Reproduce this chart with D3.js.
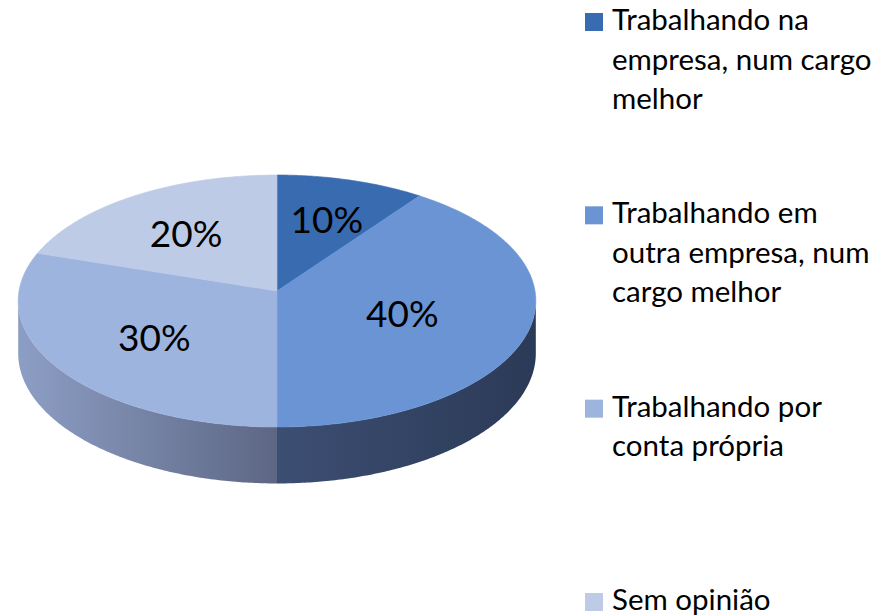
<!DOCTYPE html>
<html>
<head>
<meta charset="utf-8">
<script src="https://cdn.jsdelivr.net/npm/d3@7"></script>
<style>
  html, body { margin: 0; padding: 0; background: #ffffff; }
  svg { display: block; }
</style>
</head>
<body>
<svg id="chart" width="895" height="616"></svg>
<script>
// Slices, in drawing order (clockwise from 12 o'clock)
const categories = [
  "Trabalhando na empresa, num cargo melhor",
  "Trabalhando em outra empresa, num cargo melhor",
  "Trabalhando por conta própria",
  "Sem opinião"
];
const values = [10, 40, 30, 20];
const valueLabels = ["10%", "40%", "30%", "20%"];
const legendLines = [
  ["Trabalhando na", "empresa, num cargo", "melhor"],
  ["Trabalhando em", "outra empresa, num", "cargo melhor"],
  ["Trabalhando por", "conta própria"],
  ["Sem opinião"]
];

const topColors = ["#396bb1", "#6a94d4", "#9db4de", "#bdcbe7"];
// side wall gradients (light edge -> front edge) for the slices that face the viewer
const sideColors = [
  ["#2e3f5e", "#33456a"],
  ["#2b3a56", "#3c4e73"],
  ["#8d9ec5", "#5d6784"],
  ["#aab8d6", "#8d9ec5"]
];

const svg = d3.select("#chart");

// 3D pie geometry with a light perspective
const cx = 277, cy = 291;
const A = 258, B = 125.2, K = 0.0794, depth = 52;

function proj(theta, r, z) {
  const s = Math.sin(theta), c = Math.cos(theta);
  const w = 1 + K * r * c;
  return [cx + A * r * s / w, cy - B * r * c / w + z / w];
}

const pie = d3.pie().sort(null).value(d => d);
const arcs = pie(values);

const line = d3.line();
function sampleArc(a0, a1, z) {
  const n = Math.max(2, Math.ceil(Math.abs(a1 - a0) / 0.01));
  return d3.range(n + 1).map(i => proj(a0 + (a1 - a0) * i / n, 1, z));
}

// silhouette angles where the side wall becomes visible
const silA = Math.acos(-K);            // right side
const silB = 2 * Math.PI - silA;       // left side

const defs = svg.append("defs");

// side walls
arcs.forEach((d, i) => {
  const a0 = Math.max(d.startAngle, silA);
  const a1 = Math.min(d.endAngle, silB);
  if (a1 <= a0) return;
  const top = sampleArc(a0, a1, 0);
  const bottom = sampleArc(a1, a0, depth);
  const pts = top.concat(bottom);
  const xs = pts.map(p => p[0]);
  const xMin = d3.min(xs), xMax = d3.max(xs);
  const frontOnRight = (a0 + a1) / 2 > Math.PI;
  const g = defs.append("linearGradient")
    .attr("id", "side" + i)
    .attr("gradientUnits", "userSpaceOnUse")
    .attr("x1", xMin).attr("x2", xMax).attr("y1", 0).attr("y2", 0);
  const cols = frontOnRight ? sideColors[i] : [sideColors[i][1], sideColors[i][0]];
  g.append("stop").attr("offset", "0%").attr("stop-color", cols[0]);
  g.append("stop").attr("offset", "100%").attr("stop-color", cols[1]);
  svg.append("path")
    .attr("d", line(pts) + "Z")
    .attr("fill", "url(#side" + i + ")");
});

// top faces
arcs.forEach((d, i) => {
  const pts = [proj(0, 0, 0)].concat(sampleArc(d.startAngle, d.endAngle, 0));
  svg.append("path")
    .attr("d", line(pts) + "Z")
    .attr("fill", topColors[i])
    .attr("stroke", topColors[i])
    .attr("stroke-width", 0.6);
});

// value labels near the sector centroid
arcs.forEach((d, i) => {
  const half = (d.endAngle - d.startAngle) / 2;
  const mid = d.startAngle + half;
  const f = 2 * Math.sin(half) / (3 * half);
  const p = proj(mid, f, 0);
  svg.append("text")
    .attr("x", p[0]).attr("y", p[1] + 3)
    .attr("dy", "0.36em")
    .attr("text-anchor", "middle")
    .attr("font-family", "Lato, 'Open Sans', sans-serif")
    .attr("font-size", 37)
    .attr("fill", "#000000")
    .text(valueLabels[i]);
});

// legend
const legendY = d3.scalePoint().domain(d3.range(categories.length)).range([30, 610]);
const legend = svg.append("g");
categories.forEach((c, i) => {
  const y = legendY(i);
  legend.append("rect")
    .attr("x", 585).attr("y", y - 17)
    .attr("width", 18).attr("height", 18)
    .attr("fill", topColors[i]);
  const t = legend.append("text")
    .attr("font-family", "Lato, 'Open Sans', sans-serif")
    .attr("font-size", 29.5)
    .attr("fill", "#000000");
  legendLines[i].forEach((ln, j) => {
    t.append("tspan").attr("x", 612).attr("y", y + j * 39.5).text(ln);
  });
  t.append("title").text(c);
});
</script>
</body>
</html>
